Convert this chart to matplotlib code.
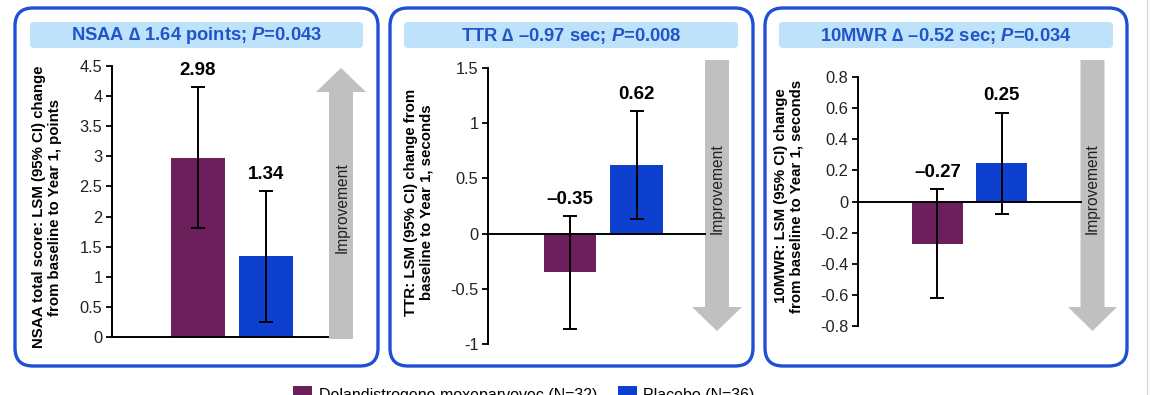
import matplotlib
matplotlib.use('Agg')
import matplotlib.pyplot as plt
from matplotlib.patches import FancyBboxPatch, Polygon
from matplotlib.ticker import FuncFormatter
import numpy as np

plt.rcParams['font.family'] = ['Liberation Sans', 'DejaVu Sans']
plt.rcParams['mathtext.fontset'] = 'custom'
plt.rcParams['mathtext.it'] = 'Liberation Sans:italic:bold'
plt.rcParams['mathtext.rm'] = 'Liberation Sans:bold'
plt.rcParams['axes.unicode_minus'] = False

# Data
groups = ['Delandistrogene moxeparvovec (N=32)', 'Placebo (N=36)']
bar_colors = ['#6b1f5b', '#0d40cf']

titles = ['NSAA \u2206 1.64 points; $P$=0.043',
          'TTR \u2206 \u20130.97 sec; $P$=0.008',
          '10MWR \u2206 \u20130.52 sec; $P$=0.034']
ylabels = ['NSAA total score: LSM (95% CI) change\nfrom baseline to Year 1, points',
           'TTR: LSM (95% CI) change from\nbaseline to Year 1, seconds',
           '10MWR: LSM (95% CI) change\nfrom baseline to Year 1, seconds']

nsaa_lsm = [2.98, 1.34]
nsaa_lo = [1.81, 0.25]
nsaa_hi = [4.15, 2.42]

ttr_lsm = [-0.35, 0.62]
ttr_lo = [-0.86, 0.13]
ttr_hi = [0.16, 1.11]

mwr_lsm = [-0.27, 0.25]
mwr_lo = [-0.62, -0.08]
mwr_hi = [0.08, 0.57]

yticks = [np.arange(0, 4.51, 0.5), np.arange(-1, 1.51, 0.5), np.arange(-0.8, 0.81, 0.2)]

W, H = 1150, 395
fig = plt.figure(figsize=(W / 100, H / 100), dpi=100)

# background layer in pixel units
bg = fig.add_axes([0, 0, 1, 1], zorder=0)
bg.set_xlim(0, W)
bg.set_ylim(H, 0)
bg.axis('off')

border_color = '#1f4fd4'
box_color = '#bfe2fb'
title_color = '#1f55c8'
arrow_color = '#c0c0c0'

# panel layout in pixels
panels = [
    dict(frame=(15, 378), tbox=(30, 363), ax=(112, 328, 66, 337), ylim=(0, 4.5),
         xlim=(-1.255, 1.9), ylab=(47, 207), arrow='up', ax_x=(316, 366), imp=(342, 208)),
    dict(frame=(390, 753), tbox=(404, 738), ax=(488, 705, 68, 344), ylim=(-1, 1.5),
         xlim=(-1.233, 2.03), ylab=(419, 202), arrow='down', ax_x=(692, 742), imp=(717, 189)),
    dict(frame=(765, 1127), tbox=(779, 1113), ax=(858, 1081, 77, 326), ylim=(-0.8, 0.8),
         xlim=(-1.242, 2.242), ylab=(789, 196), arrow='down', ax_x=(1068, 1117), imp=(1092, 189)),
]
series = [(nsaa_lsm, nsaa_lo, nsaa_hi), (ttr_lsm, ttr_lo, ttr_hi), (mwr_lsm, mwr_lo, mwr_hi)]

bars_for_legend = None
for i, (p, (lsm, lo, hi)) in enumerate(zip(panels, series)):
    fx0, fx1 = p['frame']
    bg.add_patch(FancyBboxPatch((fx0, 8), fx1 - fx0, 358,
                                boxstyle='round,pad=0,rounding_size=18',
                                fc='white', ec=border_color, lw=2.4))
    tx0, tx1 = p['tbox']
    bg.add_patch(FancyBboxPatch((tx0, 22), tx1 - tx0, 26,
                                boxstyle='round,pad=0,rounding_size=4',
                                fc=box_color, ec='none'))
    bg.text((tx0 + tx1) / 2, 36, titles[i], ha='center', va='center',
            fontsize=13.2, fontweight='bold', color=title_color)
    bg.text(p['ylab'][0], p['ylab'][1], ylabels[i], rotation=90, ha='center', va='center',
            fontsize=10.8, fontweight='bold', multialignment='center', linespacing=1.1)

    # improvement arrow
    hx0, hx1 = p['ax_x']
    cx = (hx0 + hx1) / 2
    sw = 12
    if p['arrow'] == 'up':
        pts = [(cx - sw, 339), (cx - sw, 92), (hx0, 92), (cx, 68), (hx1, 92), (cx + sw, 92), (cx + sw, 339)]
    else:
        pts = [(cx - sw, 60), (cx - sw, 307), (hx0, 307), (cx, 331), (hx1, 307), (cx + sw, 307), (cx + sw, 60)]
    bg.add_patch(Polygon(pts, closed=True, fc=arrow_color, ec='none'))
    bg.text(p['imp'][0], p['imp'][1], 'Improvement', rotation=90, ha='center', va='center',
            fontsize=11.2, color='#222222')

    # chart axes
    l, r, t, b = p['ax']
    ax = fig.add_axes([l / W, 1 - b / H, (r - l) / W, (b - t) / H], zorder=1)
    ax.patch.set_alpha(0)
    lsm = np.array(lsm)
    err = np.array([lsm - np.array(lo), np.array(hi) - lsm])
    x = np.arange(len(lsm))
    bars = ax.bar(x, lsm, width=0.79, color=bar_colors,
                  yerr=err, capsize=5,
                  error_kw=dict(elinewidth=1.4, capthick=1.4, ecolor='black'))
    if bars_for_legend is None:
        bars_for_legend = bars
    for xi, v, h in zip(x, lsm, hi):
        ax.annotate(f'{v:.2f}'.replace('-', '\u2013'), (xi, h), xytext=(0, 6),
                    textcoords='offset points', ha='center', va='bottom',
                    fontsize=13.5, fontweight='bold')
    ax.set_xlim(*p['xlim'])
    ax.set_ylim(*p['ylim'])
    ax.set_yticks(yticks[i])
    ax.yaxis.set_major_formatter(FuncFormatter(lambda v, pos: f'{round(v, 2) + 0.0:g}'))
    ax.tick_params(axis='y', direction='out', length=4, width=1.3, labelsize=11.8,
                   labelcolor='#222222', pad=3)
    ax.set_xticks([])
    for s in ['top', 'right']:
        ax.spines[s].set_visible(False)
    ax.spines['bottom'].set_position(('data', 0))
    ax.spines['left'].set_linewidth(1.4)
    ax.spines['bottom'].set_linewidth(1.4)

# faint page edge at right
bg.plot([1147, 1147], [0, H], color='#d8d8d8', lw=1)

fig.legend(bars_for_legend.patches, groups, loc='upper left',
           bbox_to_anchor=(293 / W, 1 - 386 / H), ncol=2, frameon=False,
           fontsize=11.5, borderpad=0, borderaxespad=0, handlelength=1.2,
           handleheight=1.2, handletextpad=0.4, columnspacing=1.3)

fig.savefig('out.png', dpi=100)
